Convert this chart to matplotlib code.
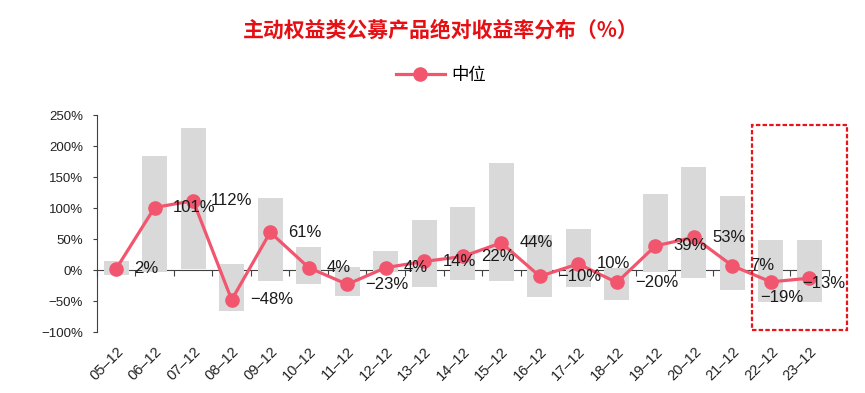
import numpy as np
import matplotlib
matplotlib.use("Agg")
import matplotlib.pyplot as plt
from matplotlib.patches import Rectangle
from matplotlib.ticker import FuncFormatter, MultipleLocator

plt.rcParams['font.family'] = ['Liberation Sans', 'Noto Sans CJK SC', 'DejaVu Sans']

#years (end of December)
years = ["05–12", "06–12", "07–12", "08–12", "09–12", "10–12", "11–12", "12–12", "13–12",
         "14–12", "15–12", "16–12", "17–12", "18–12", "19–12", "20–12", "21–12", "22–12", "23–12"]
#median absolute return (%)
median = [2, 101, 112, -48, 61, 4, -23, 4, 14, 22, 44, -10, 10, -20, 39, 53, 7, -19, -13]
#range of returns: low / high (%)
low = [-8, -3, 2, -66, -17, -23, -42, -3, -28, -16, -18, -43, -28, -48, -3, -12, -32, -51, -52]
high = [14, 184, 229, 10, 116, 37, 5, 31, 81, 102, 173, 56, 67, 3, 122, 167, 119, 48, 48]

title = "主动权益类公募产品绝对收益率分布（%）"
ymin, ymax = -100, 250

line_col = "#f2566f"
bar_col = "#d9d9d9"

x = np.arange(len(years))

fig = plt.figure(figsize=(8.65, 3.93), dpi=100)
ax = fig.add_axes([0.112, 0.155, 0.846, 0.552])

#gray floating bars
ax.bar(x, np.array(high) - np.array(low), bottom=low, width=0.65, color=bar_col, zorder=1)

#median line
ax.plot(x, median, color=line_col, lw=2.3, marker="o", markersize=9.5, zorder=3, label="中位")

#labels sit to the right of the points, the last two were moved by hand
label_shift = {17: (8, -11, "center"), 18: (10, -4, "center")}
for xi, v in zip(x, median):
    s = f"{v}%".replace("-", "−")
    dx, dy, ha = label_shift.get(xi, (13, 0, "left"))
    ax.annotate(s, (xi, v), xytext=(dx, dy), textcoords="offset points",
                ha=ha, va="center", fontsize=12, color="#1a1a1a", zorder=4)

ax.set_xlim(-0.5, len(years) - 0.5)
ax.set_ylim(ymin, ymax)
ax.yaxis.set_major_locator(MultipleLocator(50))
ax.yaxis.set_major_formatter(FuncFormatter(lambda v, p: f"{v:.0f}%".replace("-", "−")))
ax.tick_params(axis="y", labelsize=9.5, length=3, pad=7, color="#404040", labelcolor="#222222")

ax.set_xticks(x)
ax.set_xticklabels(years, rotation=45, ha="right", rotation_mode="anchor", fontsize=10.5, color="#222222")
ax.tick_params(axis="x", length=0, pad=9)

for s in ["top", "right", "bottom"]:
    ax.spines[s].set_visible(False)
ax.spines["left"].set_color("#404040")

#zero line with ticks between categories
zero_pos = (0 - ymin) / (ymax - ymin)
sec = ax.secondary_xaxis(zero_pos)
sec.set_xticks(np.arange(len(years) + 1) - 0.5)
sec.set_xticklabels([])
sec.tick_params(axis="x", direction="out", length=4, color="#404040")
sec.spines["bottom"].set_color("#404040")

fig.text(0.51, 0.922, title, ha="center", va="center", fontsize=15, fontweight="heavy",
         color="#e60f14", family=["Noto Sans CJK SC", "DejaVu Sans"])

leg = fig.legend(loc="center", bbox_to_anchor=(0.51, 0.81), frameon=False,
                 handlelength=2.8, handletextpad=0.4,
                 prop={"family": ["Noto Sans CJK SC"], "size": 12.5})

#highlight box around the last two years
fig.patches.append(Rectangle((0.869, 0.160), 0.110, 0.522, transform=fig.transFigure,
                             fill=False, ec="#e8141a", lw=1.6, ls=(0, (2, 1))))

fig.savefig("out.png", dpi=100)
